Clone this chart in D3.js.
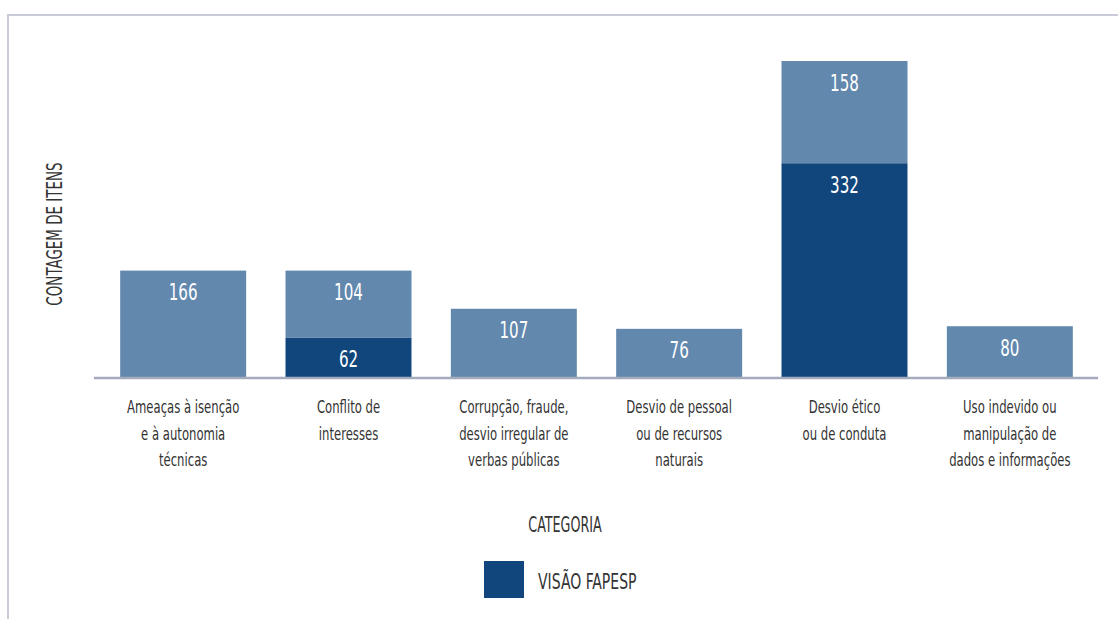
<!DOCTYPE html>
<meta charset="utf-8">
<title>Contagem de itens por categoria</title>
<style>
body { margin: 0; background: #fff; }
svg { display: block; }
text { font-family: "Liberation Sans Narrow", "DejaVu Sans Condensed", sans-serif; }
.cat-label { fill: #333; font-size: 18px; }
.value { fill: #fff; font-size: 23px; }
.title { fill: #333; font-size: 20.5px; }
</style>
<body>
<script src="https://d3js.org/d3.v7.min.js"></script>
<script>

// categorias e valores
var categorias = [
  ["Ameaças à isenção", "e à autonomia", "técnicas"],
  ["Conflito de", "interesses"],
  ["Corrupção, fraude,", "desvio irregular de", "verbas públicas"],
  ["Desvio de pessoal", "ou de recursos", "naturais"],
  ["Desvio ético", "ou de conduta"],
  ["Uso indevido ou", "manipulação de", "dados e informações"]
];
var visaoFapesp = [0, 62, 0, 0, 332, 0];
var outros = [166, 104, 107, 76, 158, 80];
var legendaFapesp = "VISÃO FAPESP";
var tituloX = "CATEGORIA";
var tituloY = "CONTAGEM DE ITENS";

var width = 1118, height = 619;

var data = categorias.map(function(c, i) {
  return { idx: i, fapesp: visaoFapesp[i], outros: outros[i] };
});

var x = d3.scaleBand()
    .domain(d3.range(categorias.length))
    .range([100.5, 1092.5])
    .paddingInner(0.238)
    .paddingOuter(0.119);

var baseline = 378;
var y = d3.scaleLinear()
    .domain([0, 490])
    .range([baseline, 61]);

var color = d3.scaleOrdinal()
    .domain(["fapesp", "outros"])
    .range(["#10467c", "#6288ae"]);

var stack = d3.stack().keys(["fapesp", "outros"]);
var series = stack(data);

var svg = d3.select("body").append("svg")
    .attr("width", width)
    .attr("height", height);

// moldura
svg.append("line")
    .attr("x1", 7).attr("x2", width)
    .attr("y1", 15).attr("y2", 15)
    .style("stroke", "#c9ccd8").style("stroke-width", 2);
svg.append("line")
    .attr("x1", 8).attr("x2", 8)
    .attr("y1", 14).attr("y2", height)
    .style("stroke", "#c9ccd8").style("stroke-width", 2);

var layer = svg.selectAll(".layer")
    .data(series)
  .enter().append("g")
    .attr("class", "layer")
    .style("fill", function(d) { return color(d.key); });

layer.selectAll("rect")
    .data(function(d) { return d.filter(function(p) { return p[1] > p[0]; }); })
  .enter().append("rect")
    .attr("x", function(d) { return x(d.data.idx); })
    .attr("width", x.bandwidth())
    .attr("y", function(d) { return y(d[1]); })
    .attr("height", function(d) { return y(d[0]) - y(d[1]); });

// rótulos de valor
series.forEach(function(s) {
  svg.selectAll(".value-" + s.key)
      .data(s.filter(function(p) { return p[1] > p[0]; }))
    .enter().append("text")
      .attr("class", "value")
      .attr("text-anchor", "middle")
      .attr("transform", function(d) {
        return "translate(" + (x(d.data.idx) + x.bandwidth() / 2) + "," + (y(d[1]) + 29.5) + ") scale(0.73,1)";
      })
      .text(function(d) { return d[1] - d[0]; });
});

// eixo x
svg.append("line")
    .attr("x1", 94).attr("x2", 1098)
    .attr("y1", baseline).attr("y2", baseline)
    .style("stroke", "#a3abbd").style("stroke-width", 2.5);

var labels = svg.selectAll(".cat")
    .data(categorias)
  .enter().append("g")
    .attr("class", "cat")
    .attr("transform", function(d, i) { return "translate(" + (x(i) + x.bandwidth() / 2) + ",413)"; });

labels.selectAll("text")
    .data(function(d) { return d; })
  .enter().append("text")
    .attr("class", "cat-label")
    .attr("text-anchor", "middle")
    .attr("transform", function(d, i) { return "translate(0," + (i * 26.5) + ") scale(0.72,1)"; })
    .text(function(d) { return d; });

// títulos dos eixos
svg.append("text")
    .attr("class", "title")
    .attr("text-anchor", "middle")
    .attr("transform", "translate(565,532) scale(0.69,1)")
    .text(tituloX);

svg.append("text")
    .attr("class", "title")
    .attr("text-anchor", "middle")
    .attr("transform", "translate(62,234) rotate(-90) scale(0.73,1)")
    .text(tituloY);

// legenda
svg.append("rect")
    .attr("x", 484).attr("y", 561)
    .attr("width", 40).attr("height", 37)
    .style("fill", color("fapesp"));

svg.append("text")
    .attr("class", "title")
    .attr("transform", "translate(538,589) scale(0.76,1)")
    .text(legendaFapesp);

</script>
</body>
